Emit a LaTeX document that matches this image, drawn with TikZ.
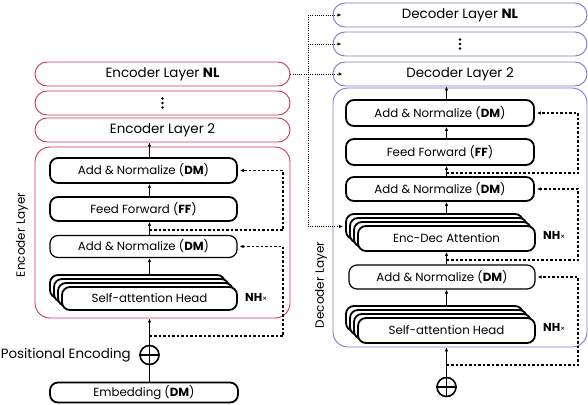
\documentclass[tikz,border=0pt]{standalone}
\usepackage{fontspec}
\setmainfont{Poppins}
\usetikzlibrary{arrows.meta}
\definecolor{encred}{RGB}{208,52,80}
\definecolor{decpur}{RGB}{135,115,205}
\begin{document}
\begin{tikzpicture}[x=1pt,y=-1pt,
  layerbox/.style={draw, line width=0.9pt, rounded corners=12pt, minimum width=255pt, minimum height=24pt, inner sep=0pt, font=\fontsize{13.4}{15}\selectfont, fill=white},
  enc/.style={layerbox, draw=encred},
  dec/.style={layerbox, draw=decpur},
  thickbox/.style={draw, line width=1.8pt, rounded corners=8pt, inner sep=0pt, font=\fontsize{11.8}{13}\selectfont, fill=white},
  thinbox/.style={thickbox, line width=1.2pt},
  arr/.style={-{Latex[length=4pt,width=3.5pt]}, line width=1pt},
  dsharr/.style={-{Latex[length=4pt,width=3.5pt]}, line width=1.2pt, dash pattern=on 2.5pt off 2pt},
  dotln/.style={line width=0.8pt, dash pattern=on 1pt off 1.2pt},
  dotarr/.style={dotln, -{Latex[length=4pt,width=3.5pt]}},
  plusc/.style={circle, draw, line width=1.6pt, minimum size=19pt, inner sep=0pt},
  side/.style={font=\fontsize{12}{14}\selectfont, inner sep=0pt},
  pelab/.style={font=\fontsize{13.4}{15}\selectfont, inner sep=0pt},
  nh/.style={font=\fontsize{11.5}{13}\selectfont, inner sep=0pt},
]
\useasboundingbox (0,0) rectangle (588,404);

% ---------------- Encoder ----------------
\node[enc] (eNL) at (162.5,74) {Encoder Layer \textbf{NL}};
\node[enc] (eDots) at (162.5,103) {};
\fill (eDots.center) circle[radius=1.4pt] ([yshift=4.5pt]eDots.center) circle[radius=1.4pt] ([yshift=-4.5pt]eDots.center) circle[radius=1.4pt];
\node[enc] (e2) at (162.5,130) {Encoder Layer 2};
\node[draw=encred, line width=0.9pt, rounded corners=15pt, minimum width=255pt, minimum height=171pt, inner sep=0pt] (eBox) at (162.5,232.5) {};
\node[side, rotate=90] (eLab) at (22,235) {Encoder Layer};

\node[thickbox, minimum width=187pt, minimum height=25pt] (eAN1) at (143.5,170.5) {Add \& Normalize (\textbf{DM})};
\node[thickbox, minimum width=187pt, minimum height=24pt] (eFF) at (143.5,209) {Feed Forward (\textbf{FF})};
\node[thinbox, minimum width=187pt, minimum height=22pt] (eAN2) at (143.5,246.5) {Add \& Normalize (\textbf{DM})};
\foreach \i in {3,2,1} {
  \node[thickbox, minimum width=175pt, minimum height=23pt] (eSA\i) at ({149.5-4*\i},{298.5-4*\i}) {};
}
\node[thickbox, minimum width=175pt, minimum height=23pt] (eSA0) at (149.5,298.5) {Self-attention Head};
\node[nh, anchor=west] (eNH) at (245,297) {\textbf{NH}{\fontsize{7.5}{8}\selectfont ×}};

\draw[arr] (eSA3.north -| eSA0.north) -- (eAN2.south -| eSA0.north);
\draw[arr] (eAN2.north -| eSA0.north) -- (eFF.south -| eSA0.north);
\draw[arr] (eFF.north -| eSA0.north) -- (eAN1.south -| eSA0.north);
\draw[arr] (eAN1.north -| eSA0.north) -- (e2.south -| eSA0.north);

\coordinate (eF1) at (149.5,336); \coordinate (eF1r) at (283,336);
\draw[dsharr] (eF1) -- (eF1r) |- ([xshift=2pt]eAN2.east);
\coordinate (eF2) at (149.5,230); \coordinate (eF2r) at (283,230);
\draw[dsharr] (eF2) -- (eF2r) |- ([xshift=2pt]eAN1.east);

\node[plusc] (ePE) at (149.5,355) {};
\draw[line width=1.6pt] (ePE.north) -- (ePE.south) (ePE.west) -- (ePE.east);
\node[pelab, anchor=east] (pel) at (131,355) {Positional Encoding};
\node[thickbox, minimum width=188pt, minimum height=20pt] (eEmb) at (144,392.5) {Embedding (\textbf{DM})};
\draw[line width=1pt] (eEmb.north -| ePE) -- (ePE.south);
\draw[arr] (ePE.north) -- (eBox.south -| ePE);

% ---------------- Decoder ----------------
\node[dec, minimum width=254pt] (dNL) at (460,15) {Decoder Layer \textbf{NL}};
\node[dec, minimum width=254pt] (dDots) at (460,44) {};
\fill (dDots.center) circle[radius=1.4pt] ([yshift=4.5pt]dDots.center) circle[radius=1.4pt] ([yshift=-4.5pt]dDots.center) circle[radius=1.4pt];
\node[dec, minimum width=254pt] (d2) at (460,74) {Decoder Layer 2};
\node[draw=decpur, line width=0.9pt, rounded corners=15pt, minimum width=254pt, minimum height=259pt, inner sep=0pt] (dBox) at (460,217.5) {};
\node[side, rotate=90] (dLab) at (321,285) {Decoder Layer};

\node[thickbox, minimum width=188pt, minimum height=26pt] (dAN1) at (440,113) {Add \& Normalize (\textbf{DM})};
\node[thickbox, minimum width=188pt, minimum height=26pt] (dFF) at (440,152) {Feed Forward (\textbf{FF})};
\node[thickbox, minimum width=188pt, minimum height=24pt] (dAN2) at (440,189) {Add \& Normalize (\textbf{DM})};
\foreach \i in {3,2,1} {
  \node[thickbox, minimum width=177pt, minimum height=25pt] (dED\i) at ({446.5-4*\i},{238.5-4*\i}) {};
}
\node[thickbox, minimum width=177pt, minimum height=25pt] (dED0) at (446.5,238.5) {Enc-Dec Attention};
\node[nh, anchor=west] (dNH1) at (543,235) {\textbf{NH}{\fontsize{7.5}{8}\selectfont ×}};
\node[thinbox, minimum width=186pt, minimum height=24pt] (dAN3) at (442,277) {Add \& Normalize (\textbf{DM})};
\foreach \i in {3,2,1} {
  \node[thickbox, minimum width=177pt, minimum height=25pt] (dSA\i) at ({446.5-4*\i},{330.5-4*\i}) {};
}
\node[thickbox, minimum width=177pt, minimum height=25pt] (dSA0) at (446.5,330.5) {Self-attention Head};
\node[nh, anchor=west] (dNH2) at (543,327) {\textbf{NH}{\fontsize{7.5}{8}\selectfont ×}};

\draw[arr] (dSA3.north -| dSA0.north) -- (dAN3.south -| dSA0.north);
\draw[arr] (dAN3.north -| dSA0.north) -- (dED0.south -| dSA0.north);
\draw[arr] (dED3.north -| dSA0.north) -- (dAN2.south -| dSA0.north);
\draw[arr] (dAN2.north -| dSA0.north) -- (dFF.south -| dSA0.north);
\draw[arr] (dFF.north -| dSA0.north) -- (dAN1.south -| dSA0.north);
\draw[arr] (dAN1.north -| dSA0.north) -- (d2.south -| dSA0.north);

\coordinate (dF1) at (446.5,365); \coordinate (dF1r) at (578,365);
\draw[dsharr] (dF1) -- (dF1r) |- ([xshift=2pt]dAN3.east);
\coordinate (dF2) at (446.5,260); \coordinate (dF2r) at (578,260);
\draw[dsharr] (dF2) -- (dF2r) |- ([xshift=2pt]dAN2.east);
\coordinate (dF3) at (446.5,173); \coordinate (dF3r) at (578,173);
\draw[dsharr] (dF3) -- (dF3r) |- ([xshift=2pt]dAN1.east);

\node[plusc] (dPE) at (446.5,387) {};
\draw[line width=1.6pt] (dPE.north) -- (dPE.south) (dPE.west) -- (dPE.east);
\draw[arr] (dPE.north) -- (dBox.south -| dPE);

% ---------------- Encoder to decoder ----------------
\coordinate (vx) at (308,0);
\draw[dotarr] (eNL.east) -- ([xshift=10pt]d2.west);
\draw[dotln] (dNL.west -| vx) -- (dED3.west -| vx);
\draw[dotarr] (dNL.west -| vx) -- ([xshift=9pt]dNL.west);
\draw[dotarr] (dDots.west -| vx) -- ([xshift=9pt]dDots.west);
\draw[dotarr] (dED3.west -| vx) -- ([xshift=-2pt]dED3.west);
\end{tikzpicture}
\end{document}
